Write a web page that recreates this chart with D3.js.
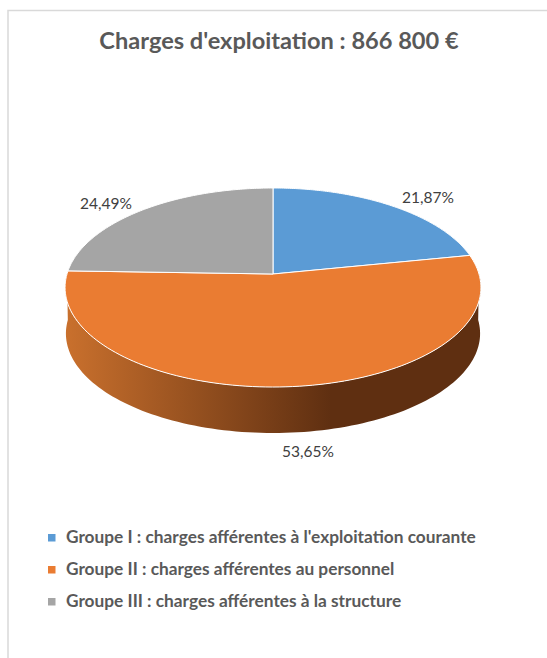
<!DOCTYPE html>
<html>
<head>
<meta charset="utf-8">
<script src="https://cdn.jsdelivr.net/npm/d3@7"></script>
<style>
  html, body { margin: 0; padding: 0; background: #fff; }
  svg { display: block; }
  text { font-family: Lato, "Open Sans", sans-serif; }
</style>
</head>
<body>
<div id="graph"></div>
<script>
var titleText = "Charges d'exploitation : 866 800 €";
var categories = [
  "Groupe I : charges afférentes à l'exploitation courante",
  "Groupe II : charges afférentes au personnel",
  "Groupe III : charges afférentes à la structure"
];
var values = [21.87, 53.65, 24.49];
var valueLabels = ["21,87%", "53,65%", "24,49%"];
var colors = ["#5b9bd5", "#ea7c32", "#a5a5a5"];

var width = 547, height = 658;

// the pie lies flat and is seen in perspective, so the apex is not at the ellipse centre
var cx = 273, apexY = 274, radiusX = 206;
var persp = -0.1357, slopeY = 60.5;
var depth = 46;

function project(angle, r) {
  var u = Math.sin(angle) * r;
  var v = -Math.cos(angle) * r;
  var w = 1 + persp * v;
  return [cx + radiusX * u / w, (apexY + slopeY * v) / w];
}

// wall bottom rim is a little narrower than the top one
function projectLow(angle) {
  var p = project(angle, 1);
  return [cx + (p[0] - cx) * 0.996, p[1] + depth];
}

var line = d3.line();

function sweep(a0, a1, n) {
  return d3.range(n + 1).map(function(i) {
    return a0 + (a1 - a0) * i / n;
  });
}

var svg = d3.select("#graph").append("svg")
  .attr("width", width)
  .attr("height", height);

svg.append("rect").attr("width", width).attr("height", height).attr("fill", "#fff");

// chart frame, only left and top show
svg.append("path")
  .attr("d", "M8,658V10.5H547")
  .attr("fill", "none")
  .attr("stroke", "#d9d9d9")
  .attr("stroke-width", 1.5);

svg.append("text")
  .attr("x", 279)
  .attr("y", 49)
  .attr("text-anchor", "middle")
  .attr("font-size", 23.6)
  .attr("font-weight", 700)
  .attr("fill", "#595959")
  .text(titleText);

var grad = svg.append("defs").append("linearGradient")
  .attr("id", "wall")
  .attr("gradientUnits", "userSpaceOnUse")
  .attr("x1", 66).attr("x2", 480).attr("y1", 0).attr("y2", 0);
grad.append("stop").attr("offset", 0).attr("stop-color", "#c9702d");
grad.append("stop").attr("offset", 0.64).attr("stop-color", "#5f2f11");
grad.append("stop").attr("offset", 1).attr("stop-color", "#5f2f11");

var pie = d3.pie().sort(null)(values);

// wall: only the front of the big slice can be seen
var frontStart = Math.PI * 0.5, frontEnd = Math.PI * 1.5;
var upper = sweep(frontStart, frontEnd, 120).map(function(a) { return project(a, 1); });
var lower = sweep(frontEnd, frontStart, 120).map(projectLow);
svg.append("path")
  .attr("d", line(upper.concat(lower)) + "Z")
  .attr("fill", "url(#wall)");

svg.selectAll("path.slice")
  .data(pie)
  .enter().append("path")
  .attr("class", "slice")
  .attr("d", function(d) {
    var rim = sweep(d.startAngle, d.endAngle, 120).map(function(a) { return project(a, 1); });
    return line([[cx, apexY]].concat(rim)) + "Z";
  })
  .attr("fill", function(d, i) { return colors[i]; })
  .attr("stroke", "#fff")
  .attr("stroke-width", 1)
  .attr("stroke-linejoin", "round");

var labelPos = [[428, 203], [308, 457], [106, 209]];
svg.selectAll("text.value")
  .data(valueLabels)
  .enter().append("text")
  .attr("class", "value")
  .attr("x", function(d, i) { return labelPos[i][0]; })
  .attr("y", function(d, i) { return labelPos[i][1]; })
  .attr("text-anchor", "middle")
  .attr("font-size", 15.5)
  .attr("fill", "#404040")
  .text(function(d) { return d; });

var legendY = d3.scalePoint().domain(categories).range([537.5, 601.5]);

var legend = svg.selectAll("g.legend")
  .data(categories)
  .enter().append("g")
  .attr("class", "legend")
  .attr("transform", function(d) { return "translate(0," + legendY(d) + ")"; });

legend.append("rect")
  .attr("x", 48)
  .attr("y", -3.5)
  .attr("width", 7.5)
  .attr("height", 7.5)
  .attr("fill", function(d, i) { return colors[i]; });

legend.append("text")
  .attr("x", 66)
  .attr("y", 5.5)
  .attr("font-size", 17.3)
  .attr("font-weight", 700)
  .attr("fill", "#595959")
  .text(function(d) { return d; });
</script>
</body>
</html>
